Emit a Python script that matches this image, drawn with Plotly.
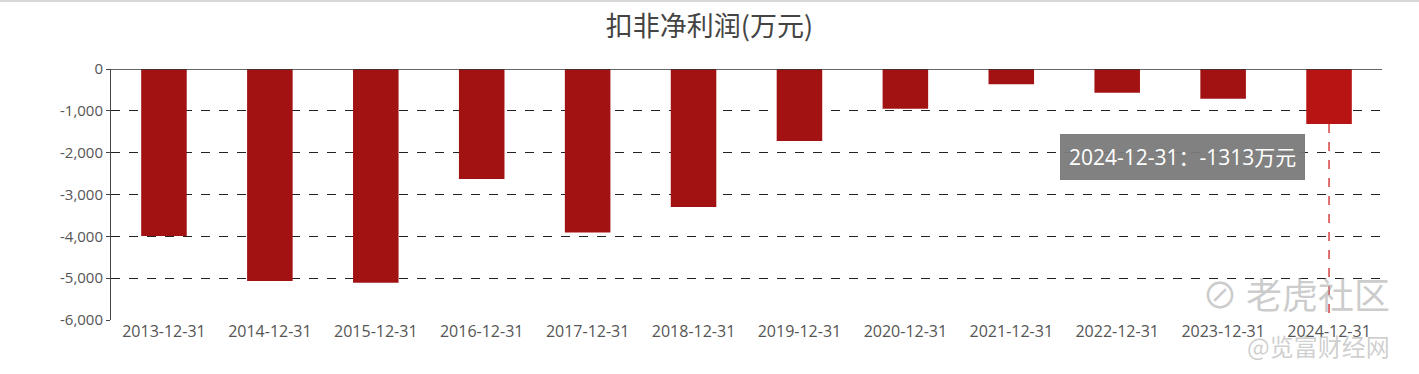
import plotly.graph_objects as go

categories = ["2013-12-31", "2014-12-31", "2015-12-31", "2016-12-31", "2017-12-31", "2018-12-31",
              "2019-12-31", "2020-12-31", "2021-12-31", "2022-12-31", "2023-12-31", "2024-12-31"]
values = [-3990, -5070, -5110, -2630, -3910, -3300, -1720, -950, -366, -566, -710, -1313]
tick_vals = [0, -1000, -2000, -3000, -4000, -5000, -6000]
tick_text = ["0", "-1,000", "-2,000", "-3,000", "-4,000", "-5,000", "-6,000"]

colors = ["#A31212"] * (len(values) - 1) + ["#B81414"]

W, H = 1419, 374
ML, MR, MT, MB = 111, 37, 69, 54
pw = W - ML - MR
ph = H - MT - MB


def px_x(x):
    return (x - ML) / pw


def px_y(y):
    return (H - MB - y) / ph


fig = go.Figure()
fig.add_trace(go.Bar(x=categories, y=values, marker=dict(color=colors, line=dict(width=0)),
                     width=0.43, hoverinfo="skip"))

font_family = "Open Sans, Noto Sans CJK SC, sans-serif"

fig.update_layout(
    width=W, height=H,
    margin=dict(l=ML, r=MR, t=MT, b=MB),
    paper_bgcolor="white", plot_bgcolor="white",
    showlegend=False,
    font=dict(family=font_family, color="#555555", size=15),
    title=dict(text="扣非净利润(万元)", x=0.5, xanchor="center", y=1 - 27 / H, yanchor="middle",
               font=dict(size=27, color="#444444", family="Noto Sans CJK SC, sans-serif")),
    xaxis=dict(type="category", showgrid=False, showline=False, ticks="",
               tickfont=dict(size=16, color="#555555"), zeroline=False),
    yaxis=dict(range=[-6000, 0], tickvals=tick_vals, ticktext=tick_text, showgrid=True,
               gridcolor="#222222", griddash="dash", gridwidth=1, zeroline=False,
               showline=True, linecolor="#444444", linewidth=1, ticks="outside", ticklen=4,
               tickcolor="#444444", tickfont=dict(size=15, color="#555555")),
)

# zero line (axis baseline)
fig.add_shape(type="line", xref="paper", yref="y", x0=0, x1=1, y0=0, y1=0,
              line=dict(color="#333333", width=1.3))
# top border line
fig.add_shape(type="line", xref="paper", yref="paper", x0=px_x(0), x1=px_x(W), y0=px_y(1), y1=px_y(1),
              line=dict(color="#D8D8D8", width=2))
# dashed red pointer line
fig.add_shape(type="line", xref="x", yref="y", x0=categories[-1], x1=categories[-1],
              y0=values[-1], y1=-6000, line=dict(color="#CC1111", width=1.2, dash="dash"))

# tooltip
fig.add_annotation(x=categories[-1], y=-2100, xref="x", yref="y",
                   text=f"{categories[-1]}：{values[-1]}万元", showarrow=False,
                   xanchor="right", yanchor="middle", xshift=-24,
                   font=dict(size=21, color="white", family=font_family),
                   bgcolor="rgba(122,122,122,0.95)", borderpad=8,
                   bordercolor="rgba(122,122,122,0.95)")

# watermarks
fig.add_annotation(x=px_x(1392), y=px_y(293), xref="paper", yref="paper", text="⊘ 老虎社区",
                   showarrow=False, xanchor="right", yanchor="middle",
                   font=dict(size=36, color="rgba(160,160,160,0.55)", family="Noto Sans CJK SC"))
fig.add_annotation(x=px_x(1392), y=px_y(345), xref="paper", yref="paper", text="@览富财经网",
                   showarrow=False, xanchor="right", yanchor="middle",
                   font=dict(size=24, color="rgba(160,160,160,0.5)", family="Noto Sans CJK SC"))

fig.write_html("out.html")
